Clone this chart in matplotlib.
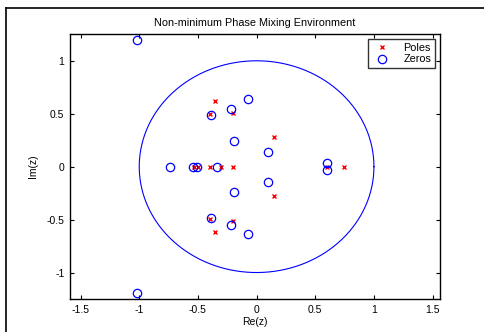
import numpy as np
import matplotlib
matplotlib.use("Agg")
import matplotlib.pyplot as plt
from matplotlib.lines import Line2D

plt.rcParams['font.family'] = ['Liberation Sans', 'DejaVu Sans']

# pole / zero locations
pole_re = [-0.356, -0.356, -0.398, -0.398, -0.202, -0.202, 0.15, 0.15,
           -0.53, -0.50, -0.40, -0.30, -0.20, 0.60, 0.742]
pole_im = [0.62, -0.62, 0.494, -0.494, 0.51, -0.51, 0.28, -0.28,
           0.0, 0.0, 0.0, 0.0, 0.0, 0.0, 0.0]

zero_re = [-1.023, -1.023, -0.387, -0.387, -0.217, -0.217, -0.074, -0.074,
           -0.194, -0.194, 0.094, 0.094, 0.597, 0.597,
           -0.739, -0.54, -0.51, -0.335]
zero_im = [1.197, -1.197, 0.487, -0.487, 0.547, -0.547, 0.638, -0.638,
           0.243, -0.243, 0.143, -0.143, 0.03, -0.03,
           0.0, 0.0, 0.0, 0.0]

fig = plt.figure(figsize=(4.85, 3.32), dpi=100)
ax = fig.add_axes([70/485, 1 - 299/332, 370/485, 265/332])

th = np.linspace(0, 2*np.pi, 400)
ax.plot(np.cos(th), np.sin(th), '-', color='#0000ff', lw=0.8)
ax.plot(pole_re, pole_im, 'x', color='red', ms=3.2, mew=1.0, ls='none', label='Poles')
ax.plot(zero_re, zero_im, 'o', mfc='none', mec='#0000ff', ms=6, mew=0.9, ls='none', label='Zeros')

ax.set_xlim(-1.59, 1.563)
ax.set_ylim(-1.25, 1.253)
ax.set_xticks([-1.5, -1, -0.5, 0, 0.5, 1, 1.5])
ax.set_xticklabels(['-1.5', '-1', '-0.5', '0', '0.5', '1', '1.5'])
ax.set_yticks([-1, -0.5, 0, 0.5, 1])
ax.set_yticklabels(['-1', '-0.5', '0', '0.5', '1'])
ax.tick_params(direction='in', length=3, width=0.8, top=True, right=True,
               labelsize=7.5, colors='black', pad=4)
for s in ax.spines.values():
    s.set_linewidth(1.0)

ax.set_title('Non-minimum Phase Mixing Environment', fontsize=7.8, pad=6)
ax.set_xlabel('Re(z)', fontsize=7.5, labelpad=2)
ax.set_ylabel('Im(z)', fontsize=7.5, labelpad=6)

leg = ax.legend(loc='upper right', fontsize=7.8, frameon=True, fancybox=False,
                edgecolor='black', borderpad=0.3, handlelength=2.0,
                handletextpad=1.0, labelspacing=0.15, borderaxespad=0.5)
leg.get_frame().set_linewidth(1.0)

# outer frame line (top and left only visible)
fig.add_artist(Line2D([6/485, 1], [1 - 8/332, 1 - 8/332], color='black', lw=1.2))
fig.add_artist(Line2D([6/485, 6/485], [0, 1 - 8/332], color='black', lw=1.2))

fig.savefig('out.png', dpi=100)
